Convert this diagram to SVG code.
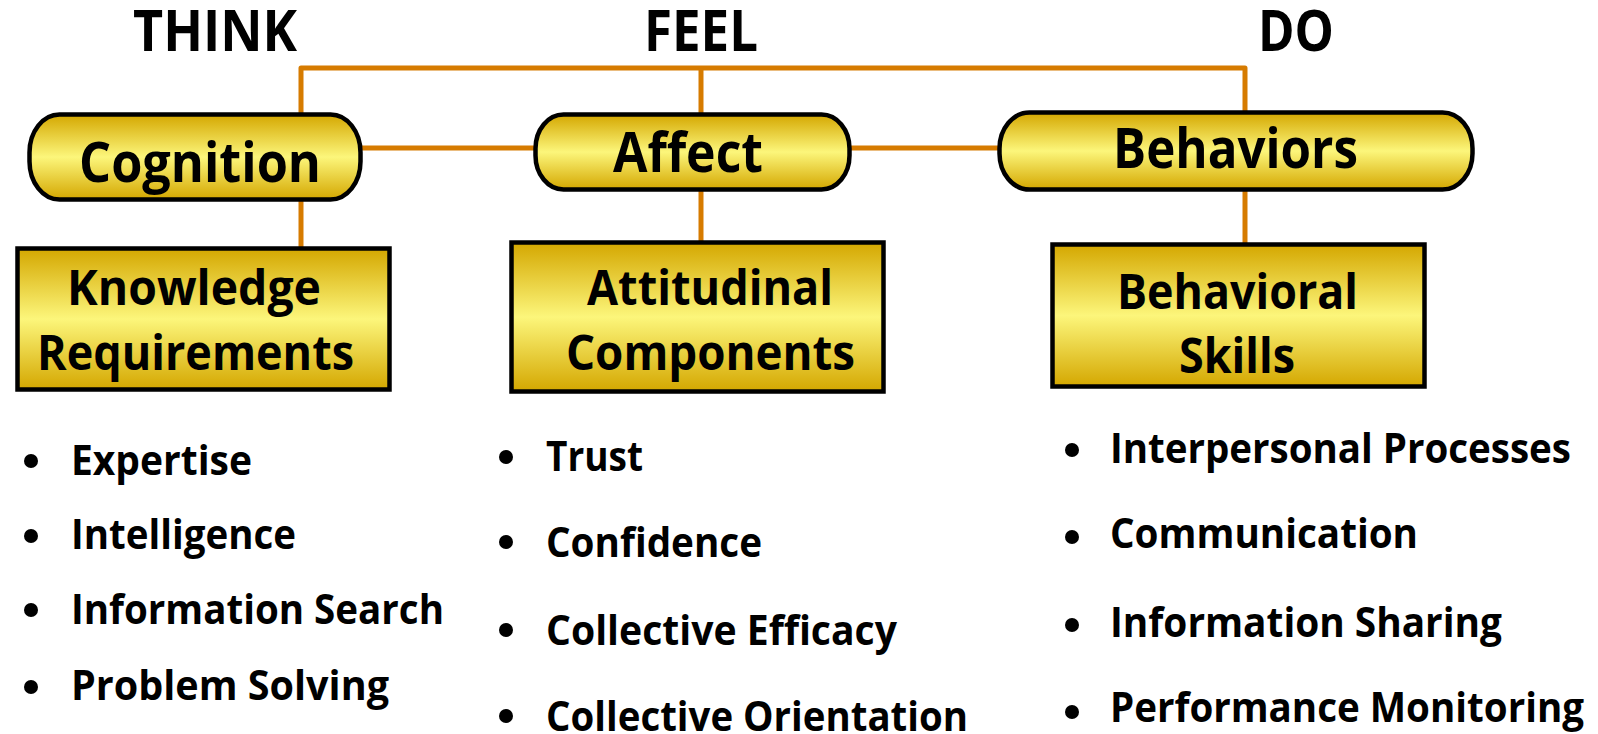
<svg xmlns="http://www.w3.org/2000/svg" width="1598" height="734" viewBox="0 0 1598 734">
  <defs>
    <linearGradient id="gold" x1="0" y1="0" x2="0" y2="1">
      <stop offset="0" stop-color="#D4A700"/>
      <stop offset="0.5" stop-color="#FCF67B"/>
      <stop offset="1" stop-color="#D4A700"/>
    </linearGradient>
    <style>
      .shape { fill: url(#gold); stroke: #000; stroke-width: 4.5; }
      .link { fill: none; stroke: #D67B00; stroke-width: 5; stroke-linejoin: round; }
      text { font-family: "Open Sans", "Liberation Sans", sans-serif; font-weight: 700; fill: #000; }
      .head { font-size: 57px; }
      .pill { font-size: 55px; }
      .box { font-size: 49px; }
      .item { font-size: 42px; }
      .dot { fill: #000; }
    </style>
  </defs>

  <rect width="1598" height="734" fill="#fff"/>

  <!-- column headings -->
  <g id="headings">
    <text class="head" x="133" y="51" textLength="164" lengthAdjust="spacingAndGlyphs">THINK</text>
    <text class="head" x="644" y="51" textLength="114" lengthAdjust="spacingAndGlyphs">FEEL</text>
    <text class="head" x="1258" y="51" textLength="76" lengthAdjust="spacingAndGlyphs">DO</text>
  </g>

  <!-- connectors -->
  <g id="connectors">
    <path class="link" d="M301,114 V68 H1245 V112"/>
    <path class="link" d="M701,68 V114"/>
    <path class="link" d="M361,148 H535"/>
    <path class="link" d="M850,148 H1000"/>
    <path class="link" d="M301,200 V248"/>
    <path class="link" d="M701,190 V242"/>
    <path class="link" d="M1245,190 V245"/>
  </g>

  <g id="cognition">
    <rect class="shape" x="29.5" y="114.5" width="331" height="85" rx="30" ry="38"/>
    <text class="pill" x="79" y="182" textLength="242" lengthAdjust="spacingAndGlyphs">Cognition</text>
  </g>

  <g id="affect">
    <rect class="shape" x="535.5" y="114.5" width="314" height="75" rx="28" ry="34"/>
    <text class="pill" x="613" y="172" textLength="150" lengthAdjust="spacingAndGlyphs">Affect</text>
  </g>

  <g id="behaviors">
    <rect class="shape" x="999.5" y="112.5" width="473" height="77" rx="30" ry="36"/>
    <text class="pill" x="1113" y="168" textLength="245" lengthAdjust="spacingAndGlyphs">Behaviors</text>
  </g>

  <g id="knowledge-requirements">
    <rect class="shape" x="17.5" y="248.5" width="372" height="141"/>
    <text class="box" x="67" y="305" textLength="254" lengthAdjust="spacingAndGlyphs">Knowledge</text>
    <text class="box" x="37" y="370" textLength="317" lengthAdjust="spacingAndGlyphs">Requirements</text>
  </g>

  <g id="attitudinal-components">
    <rect class="shape" x="511.5" y="242.5" width="372" height="149"/>
    <text class="box" x="587" y="305" textLength="246" lengthAdjust="spacingAndGlyphs">Attitudinal</text>
    <text class="box" x="566" y="370" textLength="289" lengthAdjust="spacingAndGlyphs">Components</text>
  </g>

  <g id="behavioral-skills">
    <rect class="shape" x="1052.5" y="244.5" width="372" height="142"/>
    <text class="box" x="1117" y="309" textLength="241" lengthAdjust="spacingAndGlyphs">Behavioral</text>
    <text class="box" x="1179" y="373" textLength="116" lengthAdjust="spacingAndGlyphs">Skills</text>
  </g>

  <!-- bullet lists under each column -->
  <g id="think-list">
    <circle class="dot" cx="31" cy="461" r="7"/>
    <circle class="dot" cx="31" cy="536" r="7"/>
    <circle class="dot" cx="31" cy="610" r="7"/>
    <circle class="dot" cx="31" cy="687" r="7"/>
    <text class="item" x="71" y="475" textLength="181" lengthAdjust="spacingAndGlyphs">Expertise</text>
    <text class="item" x="71" y="549" textLength="225" lengthAdjust="spacingAndGlyphs">Intelligence</text>
    <text class="item" x="71" y="624" textLength="373" lengthAdjust="spacingAndGlyphs">Information Search</text>
    <text class="item" x="71" y="700" textLength="318" lengthAdjust="spacingAndGlyphs">Problem Solving</text>
  </g>

  <g id="feel-list">
    <circle class="dot" cx="506" cy="457" r="7"/>
    <circle class="dot" cx="506" cy="542" r="7"/>
    <circle class="dot" cx="506" cy="630" r="7"/>
    <circle class="dot" cx="506" cy="716" r="7"/>
    <text class="item" x="546" y="471" textLength="97" lengthAdjust="spacingAndGlyphs">Trust</text>
    <text class="item" x="546" y="557" textLength="216" lengthAdjust="spacingAndGlyphs">Confidence</text>
    <text class="item" x="546" y="645" textLength="351" lengthAdjust="spacingAndGlyphs">Collective Efficacy</text>
    <text class="item" x="546" y="731" textLength="422" lengthAdjust="spacingAndGlyphs">Collective Orientation</text>
  </g>

  <g id="do-list">
    <circle class="dot" cx="1072" cy="450" r="7"/>
    <circle class="dot" cx="1072" cy="537" r="7"/>
    <circle class="dot" cx="1072" cy="625" r="7"/>
    <circle class="dot" cx="1072" cy="712" r="7"/>
    <text class="item" x="1110" y="463" textLength="461" lengthAdjust="spacingAndGlyphs">Interpersonal Processes</text>
    <text class="item" x="1110" y="548" textLength="308" lengthAdjust="spacingAndGlyphs">Communication</text>
    <text class="item" x="1110" y="637" textLength="392" lengthAdjust="spacingAndGlyphs">Information Sharing</text>
    <text class="item" x="1110" y="722" textLength="474" lengthAdjust="spacingAndGlyphs">Performance Monitoring</text>
  </g>
</svg>
